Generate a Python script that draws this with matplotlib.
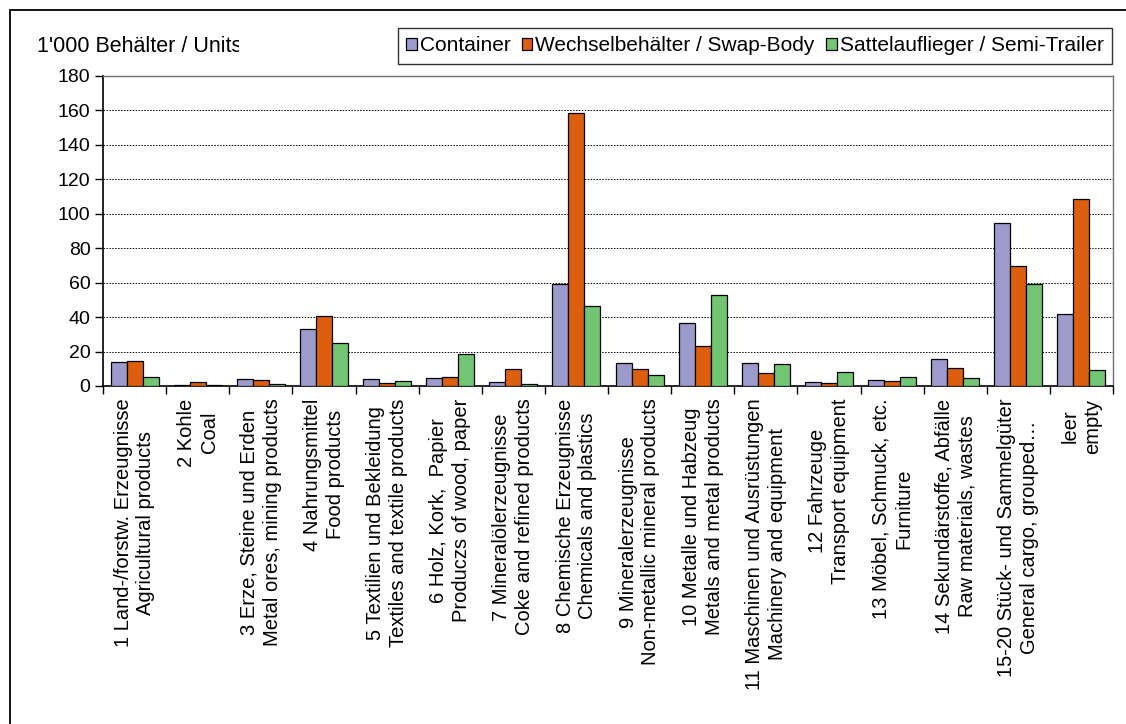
import matplotlib.pyplot as plt
import numpy as np
from matplotlib.patches import Rectangle
from matplotlib.transforms import Bbox

plt.rcParams['font.family'] = ['Liberation Sans', 'DejaVu Sans']

categories = [
    "1 Land-/forstw. Erzeugnisse\nAgricultural products",
    "2 Kohle\nCoal",
    "3 Erze, Steine und Erden\nMetal ores, mining products",
    "4 Nahrungsmittel\nFood products",
    "5 Textilien und Bekleidung\nTextiles and textile products",
    "6 Holz, Kork,  Papier\nProduczs of wood, paper",
    "7 Mineralölerzeugnisse\nCoke and refined products",
    "8 Chemische Erzeugnisse\nChemicals and plastics",
    "9 Mineralerzeugnisse\nNon-metallic mineral products",
    "10 Metalle und Habzeug\nMetals and metal products",
    "11 Maschinen und Ausrüstungen\nMachinery and equipment",
    "12 Fahrzeuge\nTransport equipment",
    "13 Möbel, Schmuck, etc.\nFurniture",
    "14 Sekundärstoffe, Abfälle\nRaw materials, wastes",
    "15-20 Stück- und Sammelgüter\nGeneral cargo, grouped…",
    "leer\nempty",
]
container = [14.0, 0.3, 4.1, 32.9, 4.3, 4.9, 2.2, 59.0, 13.4, 36.7, 13.4, 2.6, 3.7, 15.6, 94.5, 41.9]
swap_body = [14.6, 2.2, 3.7, 40.8, 1.9, 5.5, 9.7, 158.5, 9.7, 23.0, 7.8, 2.0, 2.7, 10.7, 69.5, 108.5]
semi_trailer = [5.4, 0.3, 1.2, 25.0, 2.7, 18.3, 1.2, 46.5, 6.6, 53.0, 12.8, 8.0, 5.1, 4.9, 59.5, 9.5]
series_names = ["Container", "Wechselbehälter / Swap-Body", "Sattelauflieger / Semi-Trailer"]
colors = ["#9c9bcb", "#dc5e0e", "#72c572"]

W, H = 1126, 724
fig = plt.figure(figsize=(W / 100, H / 100), dpi=100)
ax = fig.add_axes([103 / W, 1 - 386 / H, 1010 / W, 310 / H])

x = np.arange(len(categories))
bw = 0.253
for i, (vals, name, c) in enumerate(zip([container, swap_body, semi_trailer], series_names, colors)):
    ax.bar(x + (i - 1) * bw, vals, bw, color=c, edgecolor='black', linewidth=0.9,
           label=name, zorder=3)

ax.set_xlim(-0.5, len(categories) - 0.5)
ax.set_ylim(0, 180)
ax.set_yticks(np.arange(0, 181, 20))
ax.yaxis.grid(True, color='black', linestyle=(0, (1.5, 1.5)), linewidth=0.7, zorder=0)
ax.tick_params(axis='y', direction='out', length=6, width=1, labelsize=14, pad=3)

# ticks between the groups, labels centred under them
ax.set_xticks(np.arange(-0.5, len(categories), 1.0))
ax.set_xticklabels([])
ax.set_xticks(x, minor=True)
ax.set_xticklabels(categories, minor=True, rotation=90, fontsize=14.5,
                   ha='center', va='top', multialignment='center', linespacing=1.25)
ax.tick_params(axis='x', which='major', direction='out', length=6, width=1)
ax.tick_params(axis='x', which='minor', length=0, pad=9)

for s in ['left', 'bottom']:
    ax.spines[s].set_color('black')
    ax.spines[s].set_linewidth(1.2)
for s in ['top', 'right']:
    ax.spines[s].set_color('#707070')
    ax.spines[s].set_linewidth(1.0)

# outer chart frame
fig.patches.append(Rectangle((10 / W, -0.05), 1.05, 1 - 10 / H + 0.05, transform=fig.transFigure,
                             fill=False, edgecolor='black', linewidth=1.3))

t = fig.text(37 / W, 1 - 46 / H, "1'000 Behälter / Units", fontsize=15.5, ha='left', va='center')
t.set_clip_box(Bbox.from_extents(0, 0, 239, H))
t.set_clip_on(True)

leg = fig.legend(loc='upper right', bbox_to_anchor=(1112 / W, 1 - 28 / H), ncol=3,
                 fontsize=15, frameon=True, fancybox=False, handlelength=0.5, handleheight=0.5,
                 handletextpad=0.15, columnspacing=0.55, borderpad=0.4, borderaxespad=0)
leg.get_frame().set_edgecolor('black')
leg.get_frame().set_linewidth(1.0)

fig.savefig('out.png', dpi=100)
